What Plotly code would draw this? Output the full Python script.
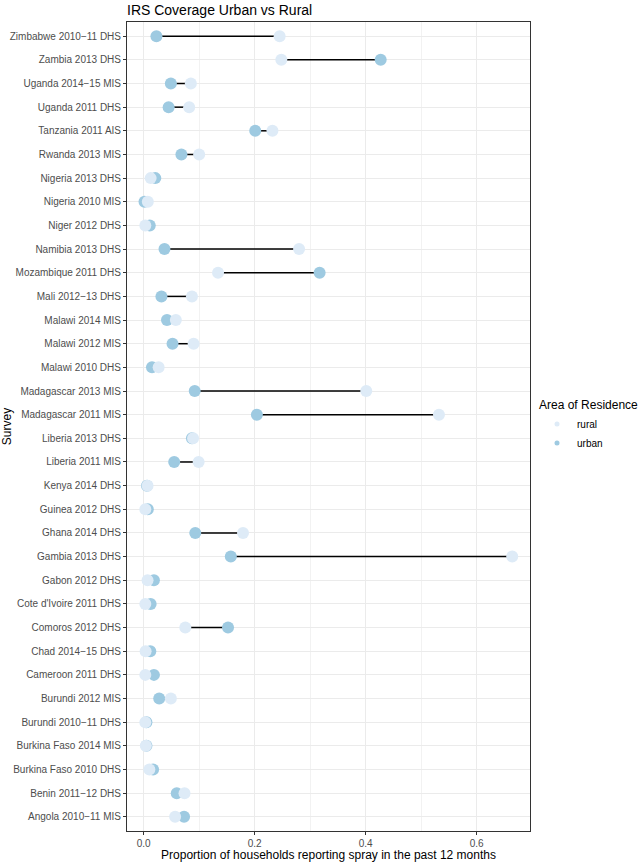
import plotly.graph_objects as go

surveys = [
    "Zimbabwe 2010\u221211 DHS", "Zambia 2013 DHS", "Uganda 2014\u221215 MIS", "Uganda 2011 DHS",
    "Tanzania 2011 AIS", "Rwanda 2013 MIS", "Nigeria 2013 DHS", "Nigeria 2010 MIS",
    "Niger 2012 DHS", "Namibia 2013 DHS", "Mozambique 2011 DHS", "Mali 2012\u221213 DHS",
    "Malawi 2014 MIS", "Malawi 2012 MIS", "Malawi 2010 DHS", "Madagascar 2013 MIS",
    "Madagascar 2011 MIS", "Liberia 2013 DHS", "Liberia 2011 MIS", "Kenya 2014 DHS",
    "Guinea 2012 DHS", "Ghana 2014 DHS", "Gambia 2013 DHS", "Gabon 2012 DHS",
    "Cote d'Ivoire 2011 DHS", "Comoros 2012 DHS", "Chad 2014\u221215 DHS", "Cameroon 2011 DHS",
    "Burundi 2012 MIS", "Burundi 2010\u221211 DHS", "Burkina Faso 2014 MIS", "Burkina Faso 2010 DHS",
    "Benin 2011\u221212 DHS", "Angola 2010\u221211 MIS",
]

urban = [0.023, 0.427, 0.049, 0.045, 0.201, 0.068, 0.021, 0.0015, 0.011, 0.0375, 0.317, 0.032,
         0.042, 0.052, 0.015, 0.092, 0.204, 0.087, 0.055, 0.006, 0.0075, 0.093, 0.157, 0.0185,
         0.0126, 0.152, 0.012, 0.0185, 0.028, 0.005, 0.005, 0.017, 0.0596, 0.0728]
rural = [0.245, 0.248, 0.085, 0.082, 0.232, 0.100, 0.0126, 0.0075, 0.003, 0.280, 0.134, 0.087,
         0.058, 0.090, 0.027, 0.401, 0.532, 0.089, 0.099, 0.007, 0.003, 0.179, 0.664, 0.007,
         0.003, 0.075, 0.0035, 0.003, 0.049, 0.003, 0.004, 0.0103, 0.0736, 0.0567]

x_ticks = [0.0, 0.2, 0.4, 0.6]

col_rural = "#deebf7"
col_urban = "#9ecae1"

n = len(surveys)

seg_x, seg_y = [], []
for s, u, r in zip(surveys, urban, rural):
    seg_x += [u, r, None]
    seg_y += [s, s, None]

fig = go.Figure()
fig.add_trace(go.Scatter(x=seg_x, y=seg_y, mode="lines",
                         line=dict(color="black", width=1.5),
                         showlegend=False, hoverinfo="skip"))
fig.add_trace(go.Scatter(x=urban, y=surveys, mode="markers", name="urban",
                         marker=dict(color=col_urban, size=12, line=dict(width=0)),
                         showlegend=False))
fig.add_trace(go.Scatter(x=rural, y=surveys, mode="markers", name="rural",
                         marker=dict(color=col_rural, size=12, line=dict(width=0)),
                         showlegend=False))
# legend entries (small keys)
fig.add_trace(go.Scatter(x=[None], y=[None], mode="markers", name="rural",
                         marker=dict(color=col_rural, size=5)))
fig.add_trace(go.Scatter(x=[None], y=[None], mode="markers", name="urban",
                         marker=dict(color=col_urban, size=5)))

fig.update_layout(
    width=638, height=862,
    margin=dict(l=127, r=108, t=22, b=31, autoexpand=False),
    paper_bgcolor="white", plot_bgcolor="white",
    font=dict(family="Liberation Sans, Arial, sans-serif", color="black"),
    title=dict(text="IRS Coverage Urban vs Rural", x=0, xref="paper", xanchor="left",
               y=1 - 10 / 862, yref="container", yanchor="middle",
               font=dict(size=14, color="black")),
    showlegend=True,
    legend=dict(title=dict(text="Area of Residence", font=dict(size=12, color="black")),
                x=1.0174, xanchor="left", y=0.5403, yanchor="top",
                font=dict(size=10, color="black"), bgcolor="rgba(0,0,0,0)",
                tracegroupgap=0, itemwidth=30),
    xaxis=dict(range=[-0.030, 0.696], tickvals=x_ticks, tickformat=".1f",
               automargin=False,
               showgrid=True, gridcolor="#ebebeb", gridwidth=1,
               minor=dict(dtick=0.1, tick0=0, showgrid=True, gridcolor="#f2f2f2", gridwidth=0.5),
               ticks="outside", ticklen=3, tickcolor="#333333", tickwidth=1,
               tickfont=dict(size=10, color="#4d4d4d"),
               title=dict(text="Proportion of households reporting spray in the past 12 months",
                          font=dict(size=12, color="black")),
               showline=True, linecolor="#333333", linewidth=1, mirror=True, zeroline=False),
    yaxis=dict(type="category", categoryorder="array", categoryarray=surveys,
               range=[n - 1 + 0.6, -0.6], automargin=False,
               showgrid=True, gridcolor="#ebebeb", gridwidth=1,
               ticks="outside", ticklen=3, tickcolor="#333333", tickwidth=1,
               tickfont=dict(size=10, color="#4d4d4d"),
               title=dict(text="Survey", font=dict(size=12, color="black")),
               showline=True, linecolor="#333333", linewidth=1, mirror=True, zeroline=False),
)

fig.write_html("out.html",
               config={"displayModeBar": False},
               post_script="document.body.style.margin='0';document.body.style.overflow='hidden';")
